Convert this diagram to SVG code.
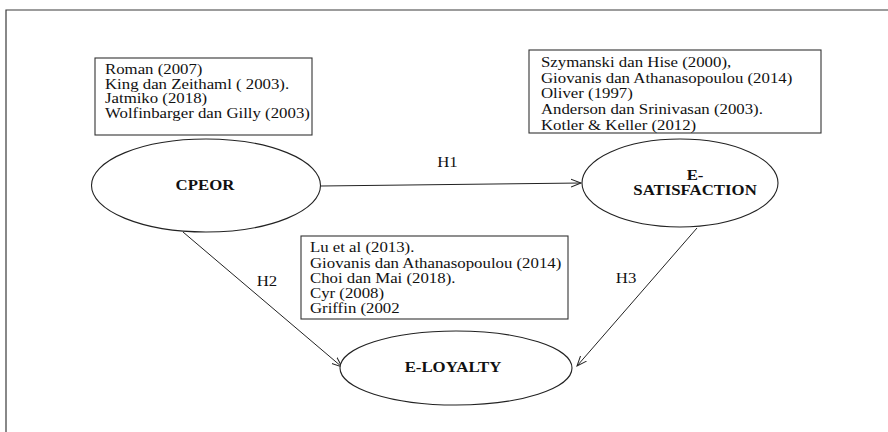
<svg xmlns="http://www.w3.org/2000/svg" width="888" height="432" viewBox="0 0 888 432">
<defs>
<style>
.frame{fill:none;stroke:#3a3a3a;stroke-width:1.2}
.box{fill:#fff;stroke:#333;stroke-width:1.1}
.ell{fill:#fff;stroke:#222;stroke-width:1.1}
.conn{fill:none;stroke:#222;stroke-width:1}
.t{font-family:"Liberation Serif","Times New Roman",serif;font-size:14px;fill:#111}
.b{font-family:"Liberation Serif","Times New Roman",serif;font-size:14px;font-weight:bold;fill:#111;text-anchor:middle}
.h{font-family:"Liberation Serif","Times New Roman",serif;font-size:14px;fill:#111;text-anchor:middle}
</style>
<marker id="arr" markerUnits="userSpaceOnUse" markerWidth="12" markerHeight="12" refX="10" refY="5" orient="auto">
<path d="M0,1 L10,5 L0,9" fill="none" stroke="#222" stroke-width="1"/>
</marker>
</defs>
<rect width="888" height="432" fill="#fff"/>
<path class="frame" d="M6,432 V10 H888"/>

<g id="connectors">
<line class="conn" x1="321" y1="186" x2="581" y2="183" marker-end="url(#arr)"/>
<line class="conn" x1="183" y1="232" x2="342" y2="367" marker-end="url(#arr)"/>
<line class="conn" x1="697" y1="228" x2="577" y2="366" marker-end="url(#arr)"/>
<g transform="scale(1.2,1)">
<text class="h" x="372.9" y="167">H1</text>
<text class="h" x="222.5" y="286">H2</text>
<text class="h" x="521.7" y="283">H3</text>
</g>
</g>

<g id="refs-cpeor">
<rect class="box" x="95" y="58" width="217" height="77"/>
<g transform="scale(1.2,1)">
<text class="t" x="87.5" y="74">Roman (2007)</text>
<text class="t" x="87.5" y="89">King dan Zeithaml ( 2003).</text>
<text class="t" x="87.5" y="103">Jatmiko (2018)</text>
<text class="t" x="87.5" y="118">Wolfinbarger dan Gilly (2003)</text>
</g>
</g>

<g id="refs-satisfaction">
<rect class="box" x="529" y="50" width="292" height="83"/>
<g transform="scale(1.2,1)">
<text class="t" x="450.8" y="67">Szymanski dan Hise (2000),</text>
<text class="t" x="450.8" y="83">Giovanis dan Athanasopoulou (2014)</text>
<text class="t" x="450.8" y="98">Oliver (1997)</text>
<text class="t" x="450.8" y="114">Anderson dan Srinivasan (2003).</text>
<text class="t" x="450.8" y="130">Kotler &amp; Keller (2012)</text>
</g>
</g>

<g id="refs-loyalty">
<rect class="box" x="301" y="236" width="267" height="83"/>
<g transform="scale(1.2,1)">
<text class="t" x="258.3" y="252">Lu et al (2013).</text>
<text class="t" x="258.3" y="268">Giovanis dan Athanasopoulou (2014)</text>
<text class="t" x="258.3" y="283">Choi dan Mai (2018).</text>
<text class="t" x="258.3" y="298">Cyr (2008)</text>
<text class="t" x="258.3" y="313">Griffin (2002</text>
</g>
</g>

<g id="cpeor">
<ellipse class="ell" cx="206" cy="185.5" rx="114.5" ry="46.5"/>
<text class="b" transform="scale(1.2,1)" x="170.8" y="190">CPEOR</text>
</g>

<g id="e-satisfaction">
<ellipse class="ell" cx="680" cy="183" rx="98" ry="44"/>
<g transform="scale(1.2,1)">
<text class="b" x="579.2" y="180">E-</text>
<text class="b" x="579.2" y="195">SATISFACTION</text>
</g>
</g>

<g id="e-loyalty">
<ellipse class="ell" cx="456" cy="368" rx="116" ry="37"/>
<text class="b" transform="scale(1.2,1)" x="377.5" y="372">E-LOYALTY</text>
</g>
</svg>
